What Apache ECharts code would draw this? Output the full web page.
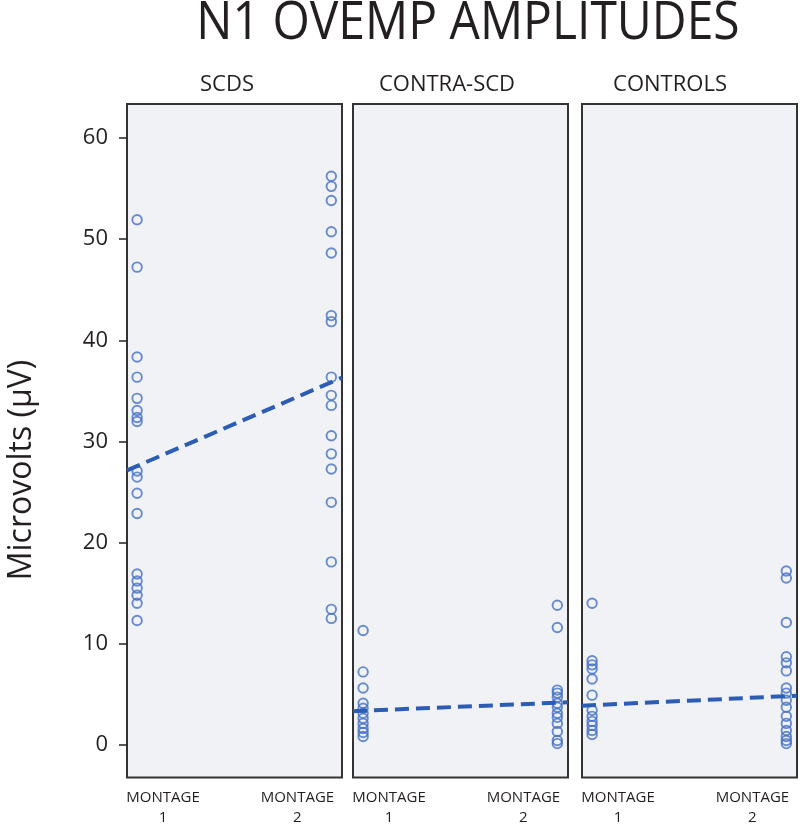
<!DOCTYPE html>
<html>
<head>
<meta charset="utf-8">
<script src="https://cdn.jsdelivr.net/npm/echarts@6/dist/echarts.min.js"></script>
<style>
html,body{margin:0;padding:0;background:#fff;}
#c{width:800px;height:825px;}
</style>
</head>
<body>
<div id="c"></div>
<script>
// ---- data ----
const panelTitles = ['SCDS', 'CONTRA-SCD', 'CONTROLS'];
const montageLabels = ['1', '2'];
const yTicks = [0, 10, 20, 30, 40, 50, 60];

const scdsMontage1 = [51.9, 47.2, 38.3, 36.3, 34.2, 33.0, 32.3, 31.9, 27.0, 26.4, 24.8, 22.8, 16.8, 16.1, 15.4, 14.7, 13.9, 12.2];
const scdsMontage2 = [56.2, 55.2, 53.8, 50.7, 48.6, 42.4, 41.8, 36.3, 34.5, 33.5, 30.5, 28.7, 27.2, 23.9, 18.0, 13.3, 12.4];
const contraMontage1 = [11.2, 7.1, 5.5, 4.0, 3.5, 3.0, 2.5, 2.0, 1.5, 1.1, 0.7];
const contraMontage2 = [13.7, 11.5, 5.3, 5.0, 4.6, 4.0, 3.6, 3.0, 2.6, 2.0, 1.2, 0.3, 0.0];
const controlsMontage1 = [13.9, 8.2, 7.8, 7.4, 6.4, 4.8, 3.3, 2.7, 2.2, 1.8, 1.3, 0.9];
const controlsMontage2 = [17.1, 16.4, 12.0, 8.6, 8.0, 7.2, 5.5, 5.0, 4.3, 3.6, 2.7, 2.0, 1.3, 0.7, 0.3, 0.0];

// fitted line values at montage 1 and montage 2
const scdsFit = [27.5, 35.8];
const contraFit = [3.25, 4.05];
const controlsFit = [3.8, 4.7];

// ---- layout / style ----
const FONT = "'Open Sans', 'DejaVu Sans', sans-serif";
const TEXT = '#231f20';
const POINT = '#4470c6';
const LINE = '#2d5cb3';
const X_MIN = 0.948, X_MAX = 2.055;
const Y_MIN = -3.36, Y_MAX = 63.36;
const GRID_TOP = 104, GRID_H = 675, GRID_W = 215;
const gridLefts = [127, 353, 582];

const panels = [
  {m1: scdsMontage1, m2: scdsMontage2, fit: scdsFit},
  {m1: contraMontage1, m2: contraMontage2, fit: contraFit},
  {m1: controlsMontage1, m2: controlsMontage2, fit: controlsFit}
];

function fitAt(fit, x) { return fit[0] + (fit[1] - fit[0]) * (x - 1); }

const grids = [], xAxes = [], yAxes = [], series = [], graphics = [];

panels.forEach((p, i) => {
  grids.push({
    left: gridLefts[i], top: GRID_TOP, width: GRID_W, height: GRID_H,
    show: true, backgroundColor: '#f1f2f6', borderColor: '#333', borderWidth: 2
  });
  xAxes.push({
    gridIndex: i, type: 'value', min: X_MIN, max: X_MAX,
    axisLine: {show: false}, axisTick: {show: false}, splitLine: {show: false},
    axisLabel: {
      customValues: [X_MIN, 1.64],
      align: 'left', margin: 10,
      formatter: v => '{t|MONTAGE}\n{t|' + (v < 1.3 ? montageLabels[0] : montageLabels[1]) + '}',
      rich: {t: {width: 72, align: 'center', fontSize: 15, lineHeight: 20, fontFamily: FONT, color: TEXT}}
    }
  });
  yAxes.push({
    gridIndex: i, type: 'value', min: Y_MIN, max: Y_MAX,
    axisLine: {show: false}, axisTick: {show: false}, axisLabel: {show: false}, splitLine: {show: false}
  });
  series.push({
    type: 'scatter', xAxisIndex: i, yAxisIndex: i, symbol: 'circle', symbolSize: 9.5,
    itemStyle: {color: 'rgba(0,0,0,0)', borderColor: POINT, borderWidth: 1.9},
    data: p.m1.map(v => [1, v]).concat(p.m2.map(v => [2, v])),
    z: 2
  });
  series.push({
    type: 'line', xAxisIndex: i, yAxisIndex: i, symbol: 'none',
    lineStyle: {color: LINE, width: 4, type: [14, 7]},
    data: [[X_MIN, fitAt(p.fit, X_MIN)], [X_MAX, fitAt(p.fit, X_MAX)]],
    z: 3
  });
});

// axis carrying the visible tick labels (0..60)
grids.push({left: 127, top: 138, width: 10, height: 607, show: false});
xAxes.push({gridIndex: 3, type: 'value', show: false});
yAxes.push({
  gridIndex: 3, type: 'value', min: 0, max: 60, interval: 10,
  axisLine: {show: false},
  axisTick: {show: true, length: 8, lineStyle: {color: '#222', width: 1.5}},
  splitLine: {show: false},
  axisLabel: {fontSize: 22, color: TEXT, fontFamily: FONT, margin: 19,
    customValues: yTicks}
});

graphics.push({type: 'text', x: 468, y: 24, scaleY: 1.1,
  style: {text: 'N1 OVEMP AMPLITUDES', fontSize: 48, fontFamily: FONT, fill: TEXT, align: 'center', verticalAlign: 'middle'}});
graphics.push({type: 'text', x: 22, y: 470, rotation: Math.PI / 2,
  style: {text: 'Microvolts (μV)', fontSize: 32, fontFamily: FONT, fill: TEXT, align: 'center', verticalAlign: 'middle'}});
const headerX = [227, 447, 670];
panelTitles.forEach((t, i) => {
  graphics.push({type: 'text', x: headerX[i], y: 85,
    style: {text: t, fontSize: 22, fontFamily: FONT, fill: TEXT, align: 'center', verticalAlign: 'middle'}});
});

const chart = echarts.init(document.getElementById('c'), null, {renderer: 'canvas'});
chart.setOption({
  animation: false,
  backgroundColor: '#fff',
  grid: grids, xAxis: xAxes, yAxis: yAxes, series: series, graphic: graphics
});
</script>
</body>
</html>
